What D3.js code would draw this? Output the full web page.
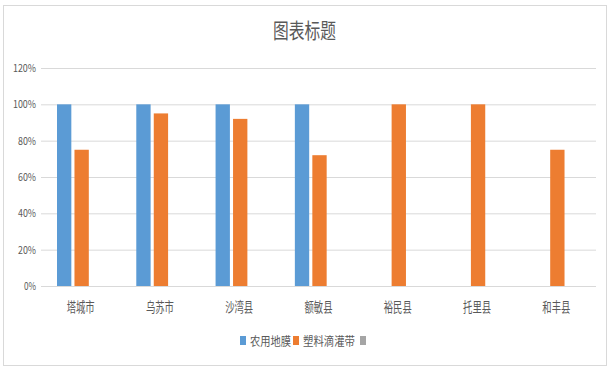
<!DOCTYPE html>
<html>
<head>
<meta charset="utf-8">
<script src="https://cdn.jsdelivr.net/npm/d3@7"></script>
<style>
body{margin:0;background:#fff}
text{font-family:"Noto Sans CJK SC","Noto Sans",sans-serif}
</style>
</head>
<body>
<div id="chart"></div>
<script>
var categories = ['塔城市','乌苏市','沙湾县','额敏县','裕民县','托里县','和丰县']
var seriesNames = ['农用地膜','塑料滴灌带','']
var mulch = [100,100,100,100,null,null,null]
var dripTape = [75,95,92,72,100,100,75]
var third = [null,null,null,null,null,null,null]
var yTicks = [0,20,40,60,80,100,120]
var colors = ['#5b9bd5','#ed7d31','#a5a5a5']

var svg = d3.select('#chart').append('svg')
    .attr('width',612)
    .attr('height',372)

svg.append('rect')
    .attr('x',3.5).attr('y',5.5)
    .attr('width',603).attr('height',360)
    .attr('fill','#fff').attr('stroke','#d9d9d9')

svg.append('text')
    .attr('x',273).attr('y',38)
    .attr('font-size',21)
    .attr('textLength',63)
    .attr('lengthAdjust','spacingAndGlyphs')
    .attr('fill','#595959')
    .text('图表标题')

var x = d3.scaleBand().domain(categories).range([41,596])
var y = d3.scaleLinear().domain([0,120]).range([286,68])
var inner = d3.scaleBand().domain([0,1,2]).range([16,x.bandwidth()-14]).paddingInner(0.18)

var yAxis = svg.append('g')
    .attr('transform','translate(41,0)')
    .call(d3.axisLeft(y).tickValues(yTicks).tickSize(-555).tickFormat(function(d){return d+'%'}))
yAxis.select('.domain').remove()
yAxis.selectAll('line').attr('stroke','#d9d9d9')
yAxis.selectAll('text').attr('fill','#595959').attr('font-size',11).attr('x',-5)
    .attr('textLength',function(d){return d>=100?23:(d>0?18:12)})
    .attr('lengthAdjust','spacingAndGlyphs')

var data = [mulch,dripTape,third]
data.forEach(function(series,s){
  svg.append('g').selectAll('rect')
    .data(series.map(function(v,i){return {c:categories[i],v:v}}).filter(function(d){return d.v!=null}))
    .enter().append('rect')
    .attr('x',function(d){return x(d.c)+inner(s)})
    .attr('y',function(d){return y(d.v)})
    .attr('width',inner.bandwidth())
    .attr('height',function(d){return y(0)-y(d.v)})
    .attr('fill',colors[s])
})

svg.append('g').selectAll('text')
    .data(categories).enter().append('text')
    .attr('x',function(d){return x(d)+x.bandwidth()/2-14})
    .attr('y',312)
    .attr('font-size',13.5)
    .attr('textLength',28)
    .attr('lengthAdjust','spacingAndGlyphs')
    .attr('fill','#595959')
    .text(function(d){return d})

// legend
var legendX = [240,293,360]
var legendW = [41,52,0]
var legend = svg.append('g').selectAll('g')
    .data(seriesNames).enter().append('g')
    .attr('transform',function(d,i){return 'translate('+legendX[i]+',336)'})
legend.append('rect')
    .attr('width',6).attr('height',9)
    .attr('fill',function(d,i){return colors[i]})
legend.filter(function(d){return d!==''}).append('text')
    .attr('x',10).attr('y',9.5)
    .attr('font-size',12)
    .attr('textLength',function(d,i){return legendW[i]})
    .attr('lengthAdjust','spacingAndGlyphs')
    .attr('fill','#595959')
    .text(function(d){return d})
</script>
</body>
</html>
